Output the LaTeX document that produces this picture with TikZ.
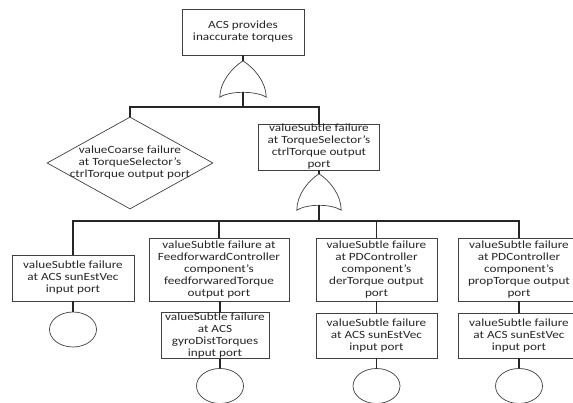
\documentclass[tikz,border=0pt]{standalone}
\usepackage{fontspec}
\setmainfont{Carlito}[FakeStretch=1.2]
\usetikzlibrary{shapes.geometric}
\newcommand{\orgateshape}[1]{%
  \draw[gateline] (#1.south west)
    .. controls ([yshift=15pt]#1.south west) and ([xshift=-11pt,yshift=-7pt]#1.north) .. (#1.north)
    .. controls ([xshift=11pt,yshift=-7pt]#1.north) and ([yshift=15pt]#1.south east) .. (#1.south east)
    .. controls ([xshift=-10pt,yshift=6.5pt]#1.south east) and ([xshift=10pt,yshift=6.5pt]#1.south west) .. cycle;}
\begin{document}
\begin{tikzpicture}[x=1pt,y=-1pt,
  font=\fontsize{11}{12}\selectfont,
  box/.style={draw=black!75, line width=0.7pt, rectangle, inner sep=0pt, align=center, text=black!85},
  evt/.style={draw=black!75, line width=0.7pt, ellipse, minimum width=47pt, minimum height=35pt, inner sep=0pt},
  gatenode/.style={minimum width=46pt, minimum height=36pt, inner sep=0pt},
  conn/.style={line width=1.2pt, black!85},
  gateline/.style={line width=0.7pt, black!75}]
\fill[white] (0,0) rectangle (573,403);
\useasboundingbox (0,0) rectangle (573,403);

% top level
\node[box, minimum width=122pt, minimum height=46pt] (top) at (243,32) {ACS provides\\inaccurate torques};
\node[gatenode] (g1) at (243,79) {};
\orgateshape{g1}

% second level
\node[diamond, draw=black!75, line width=0.7pt, minimum width=166pt, minimum height=92pt, inner sep=0pt,
  label={[align=center, text=black!85]center:valueCoarse failure\\at TorqueSelector’s\\ctrlTorque output port}] (d1) at (130,163) {};
\node[box, minimum width=121pt, minimum height=46pt] (b2) at (319,147) {valueSubtle failure\\at TorqueSelector’s\\ctrlTorque output\\port};
\node[gatenode, minimum width=44pt] (g2) at (319,192) {};
\orgateshape{g2}

% third level
\node[box, minimum width=122pt, minimum height=46pt] (ba) at (73,278) {valueSubtle failure\\at ACS sunEstVec\\input port};
\node[box, minimum width=140pt, minimum height=63pt] (bb) at (219,269.5) {valueSubtle failure at\\FeedforwardController\\component’s\\feedforwaredTorque\\output port};
\node[box, minimum width=108pt, minimum height=45pt] (bb2) at (215,335.5) {valueSubtle failure\\at ACS\\gyroDistTorques\\input port};
\node[box, minimum width=121pt, minimum height=63pt] (bc) at (376.5,269.5) {valueSubtle failure\\at PDController\\component’s\\derTorque output\\port};
\node[box, minimum width=121pt, minimum height=45pt] (bc2) at (376.5,335.5) {valueSubtle failure\\at ACS sunEstVec\\input port};
\node[box, minimum width=122pt, minimum height=63pt] (bd) at (519,269.5) {valueSubtle failure\\at PDController\\component’s\\propTorque output\\port};
\node[box, minimum width=122pt, minimum height=45pt] (bd2) at (519,335.5) {valueSubtle failure\\at ACS sunEstVec\\input port};

% basic events
\node[evt] (ea) at (73,329.5) {};
\node[evt] (eb) at (220,386) {};
\node[evt] (ec) at (376.5,386) {};
\node[evt] (ed) at (519,386) {};

% connectors
\coordinate (j1) at (243,107);
\coordinate (j2) at (319,221);
\draw[conn] (top.south) -- (g1.north);
\draw[conn] ([yshift=5pt]g1.south) -- (j1);
\draw[conn] (d1.north) |- (j1) -| (b2.north);
\draw[conn] (b2.south) -- (g2.north);
\draw[conn] ([yshift=5pt]g2.south) -- (j2);
\draw[conn] (ba.north) |- (j2) -| (bd.north);
\draw[conn] (j2) -| (bb.north);
\draw[conn] (j2) -| (bc.north);
\draw[conn] (ba.south) -- (ea.north);
\draw[conn] (eb.north |- bb.south) -- (eb.north |- bb2.north);
\draw[conn] (eb.north |- bb2.south) -- (eb.north);
\draw[conn] (bc.south) -- (bc2.north);
\draw[conn] (bc2.south) -- (ec.north);
\draw[conn] (bd.south) -- (bd2.north);
\draw[conn] (bd2.south) -- (ed.north);
\end{tikzpicture}
\end{document}
